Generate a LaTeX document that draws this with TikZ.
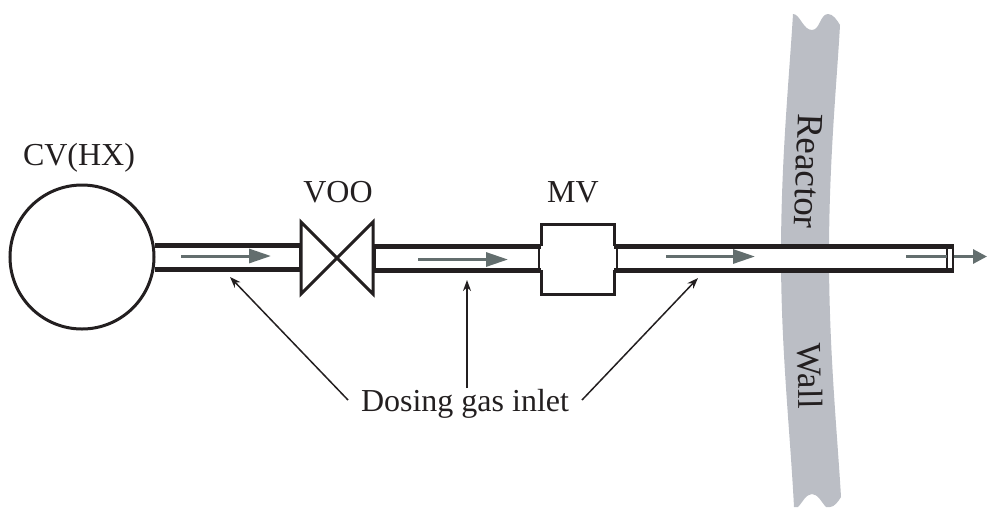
\documentclass[tikz,border=0pt]{standalone}
\usepackage{fontspec}
\setmainfont{Liberation Serif}
\usetikzlibrary{arrows.meta}
\definecolor{wallgrey}{HTML}{BBBEC5}
\definecolor{flowgrey}{HTML}{636E6E}
\definecolor{ink}{HTML}{231F20}
\tikzset{
  x=1pt,y=-1pt,
  pipewall/.style={draw=ink,line width=5pt},
  thinwall/.style={draw=ink,line width=2pt},
  outline/.style={draw=ink,line width=3pt,line join=miter},
  flow/.style={draw=flowgrey,line width=3pt,-{Triangle[length=22pt,width=14pt,fill=flowgrey]}},
  flowplain/.style={draw=flowgrey,line width=3pt},
  leader/.style={draw=ink,line width=1.5pt,-{Stealth[length=11pt,width=8pt,fill=ink]}},
  lab/.style={font=\fontsize{32}{36}\selectfont,text=ink,inner sep=0pt},
}
\begin{document}
\begin{tikzpicture}
\useasboundingbox (0,0) rectangle (987,507);
% reactor wall
\fill[wallgrey] (793,14) .. controls (800,14) and (803,30) .. (812,30)
  .. controls (820,30) and (820,14) .. (828,14)
  .. controls (833,14) and (837,20) .. (840,25)
  .. controls (837,80) and (829,160) .. (829,255)
  .. controls (829,350) and (837,430) .. (841,497)
  .. controls (838,502) and (834,507) .. (830,507)
  -- (826,507) .. controls (822,503) and (818,494) .. (812,494)
  .. controls (806,494) and (802,503) .. (798,507)
  -- (794,507) .. controls (790,430) and (781,350) .. (781,255)
  .. controls (781,160) and (789,80) .. (793,14) -- cycle;
\node[lab,font=\fontsize{37}{40}\selectfont,rotate=-92] (reactor) at (808,171) {Reactor};
\node[lab,font=\fontsize{35}{38}\selectfont,rotate=-89] (wall) at (810,376) {Wall};
% pipe interiors
\fill[white] (155,246) rectangle (300,268);
\fill[white] (374,247) rectangle (540,269);
\fill[white] (616,247) rectangle (952,269);
% pipe walls
\draw[pipewall] (155,245) -- (301,245);
\draw[pipewall] (155,269) -- (301,269);
\draw[pipewall] (373,246) -- (541,246);
\draw[pipewall] (373,270) -- (541,270);
\draw[pipewall] (614,246) -- (954,246);
\draw[pipewall] (614,270) -- (954,270);
\draw[thinwall] (300,247) -- (300,268);
\draw[thinwall] (375,248) -- (375,268);
\draw[thinwall] (539,248) -- (539,268);
\draw[thinwall] (617,248) -- (617,268);
\draw[thinwall] (947,248) -- (947,268);
\draw[thinwall] (953,245) -- (953,271);
% vessel
\node[circle,outline,fill=white,minimum size=144pt,inner sep=0pt] (cv) at (82,257) {};
\node[lab] (cvlabel) at (79,158) {CV(HX)};
% valve
\coordinate (vo) at (337,258);
\draw[outline] (vo) -- (301,222) -- (301,294) -- (373,222) -- (373,294) -- cycle;
\node[lab] (voo) at (338,192) {VOO};
% metering valve
\draw[outline] (541,246) -- (541,224) -- (614,224) -- (614,246);
\draw[outline] (541,270) -- (541,294) -- (614,294) -- (614,270);
\node[lab] (mv) at (573,192) {MV};
% flow arrows
\coordinate (a1s) at (181,256); \coordinate (a1e) at (271,256);
\coordinate (a2s) at (418,259.5); \coordinate (a2e) at (508,259.5);
\coordinate (a3s) at (666,256.5); \coordinate (a3e) at (755,256.5);
\coordinate (a4s) at (906,256.5); \coordinate (a4m) at (947,256.5);
\coordinate (a5s) at (954,256.5); \coordinate (a5e) at (987,256.5);
\draw[flow] (a1s) -- (a1e);
\draw[flow] (a2s) -- (a2e);
\draw[flow] (a3s) -- (a3e);
\draw[flowplain] (a4s) -- (a4m);
\draw[draw=flowgrey,line width=3pt,-{Triangle[length=14pt,width=14pt,fill=flowgrey]}] (a5s) -- (a5e);
% dosing label and leaders
\node[lab] (dosing) at (465,404) {Dosing gas inlet};
\coordinate (l1s) at (348,400); \coordinate (l1e) at (230,277);
\coordinate (l2s) at (467,388); \coordinate (l2e) at (467,280);
\coordinate (l3s) at (582,400); \coordinate (l3e) at (698,278);
\draw[leader] (l1s) -- (l1e);
\draw[leader,line width=2.4pt] (l2s) -- (l2e);
\draw[leader] (l3s) -- (l3e);
\end{tikzpicture}
\end{document}
